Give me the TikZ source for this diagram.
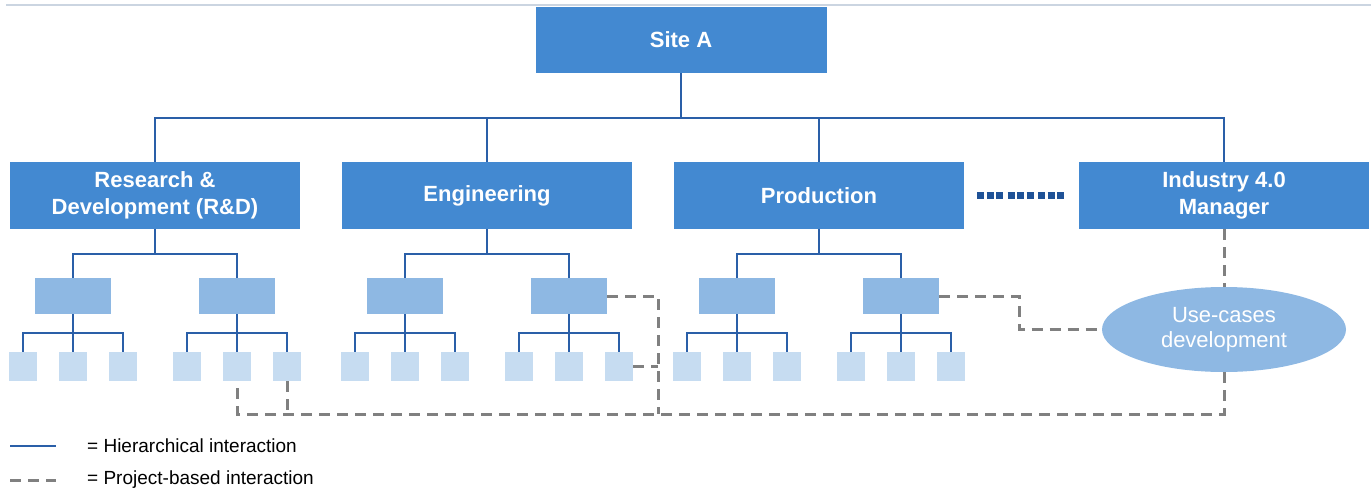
\documentclass[tikz,border=0pt]{standalone}
\usepackage{fontspec}
\setmainfont{Liberation Sans}
\usepackage{xcolor}
\usepackage{tikz}
\usetikzlibrary{calc}
\usetikzlibrary{shapes.geometric}
\definecolor{unitblue}{HTML}{4389D1}
\definecolor{subblue}{HTML}{8EB8E3}
\definecolor{leafblue}{HTML}{C6DCF1}
\definecolor{lineblue}{HTML}{2A5FA8}
\definecolor{dotblue}{HTML}{1F5297}
\definecolor{dashgray}{HTML}{808080}
\definecolor{rulegray}{HTML}{CBD5E1}
\tikzstyle{unit}=[fill=unitblue,text=white,minimum width=290pt,minimum height=67pt,inner sep=0pt,align=center,font=\fontsize{22}{27}\selectfont\bfseries]
\tikzstyle{sub}=[fill=subblue,minimum width=76pt,minimum height=36pt,inner sep=0pt]
\tikzstyle{leaf}=[fill=leafblue,minimum width=28pt,minimum height=29pt,inner sep=0pt]
\tikzstyle{usecase}=[ellipse,fill=subblue,text=white,minimum width=244pt,minimum height=85pt,inner sep=0pt,align=center,font=\fontsize{22}{25}\selectfont]
\tikzstyle{hl}=[line width=1.5pt,draw=lineblue]
\tikzstyle{pl}=[line width=3pt,draw=dashgray,dash pattern=on 11pt off 7pt]
\tikzstyle{dotrow}=[line width=7pt,draw=dotblue,dash pattern=on 7pt off 2.5pt on 7pt off 2.5pt on 7pt off 4.5pt]
\tikzstyle{legend}=[anchor=west,inner sep=0pt,font=\fontsize{19}{22}\selectfont]

\begin{document}
\begin{tikzpicture}[x=1pt,y=-1pt]
	\useasboundingbox (0,0) rectangle (1371,493);
	\coordinate (r0) at (6,5);
	\draw[rulegray,line width=1.5pt] (r0) -- ++(1365,0);

	\node[unit,minimum width=291pt,minimum height=66pt] (site) at (681,40) {Site A};
	\node[unit] (rd)   at (155,195.5)  {Research \&\\Development (R\&D)};
	\node[unit] (eng)  at (487,195.5)  {Engineering};
	\node[unit] (prod) at (819,195.5)  {Production};
	\node[unit] (ind)  at (1224,195.5) {Industry 4.0\\Manager};
	\node[usecase] (uc) at (1224,329.5) {Use-cases\\development};

	\foreach \u in {rd,eng,prod,ind}
	  \draw[hl] (site.south) -- ++(0,45) -| (\u.north);
	\draw[dotrow] ([xshift=13pt]prod.east) -- ([xshift=-13pt]ind.west);

	% departments, their groups and teams
	\foreach \d/\c in {rd/155,eng/487,prod/819}{
	  \foreach \i/\s in {1/-82,2/82}{
	    \node[sub] (\d-\i) at (\c+\s,296) {};
	    \foreach \j/\t in {1/-50,2/0,3/50}
	      \node[leaf] (\d-\i-\j) at (\c+\s+\t,366.5) {};
	    \draw[hl] (\d-\i.south) -- ++(0,19) -| (\d-\i-1.north);
	    \draw[hl] (\d-\i.south) -- ++(0,19) -| (\d-\i-3.north);
	    \draw[hl] (\d-\i.south) -- (\d-\i-2.north);
	    \draw[hl] (\d.south) -- ++(0,25) -| (\d-\i.north);
	  }
	}

	% project links
	\coordinate (low) at (0,414);
	\coordinate (ej) at (658,414);
	\coordinate (pj) at (1019,0);
	\draw[pl] (ind.south) -- (uc.north);
	\draw[pl] (uc.south) -- (uc.south |- low) -| (rd-2-2.south);
	\draw[pl] (rd-2-3.south) -- (rd-2-3.south |- low);
	\draw[pl] (eng-2.east) -| (ej);
	\draw[pl] (eng-2-3.east) -- (eng-2-3.east -| ej);
	\draw[pl] (prod-2.east) -| (pj |- uc.west) -- (uc.west);

	% legend
	\coordinate (k1) at (10,446);
	\coordinate (k2) at (10,480);
	\draw[hl] (k1) -- ++(46,0);
	\draw[pl] (k2) -- ++(46,0);
	\node[legend] (t1) at (87,446) {= Hierarchical interaction};
	\node[legend] (t2) at (87,480) {= Project-based interaction};
\end{tikzpicture}
\end{document}
